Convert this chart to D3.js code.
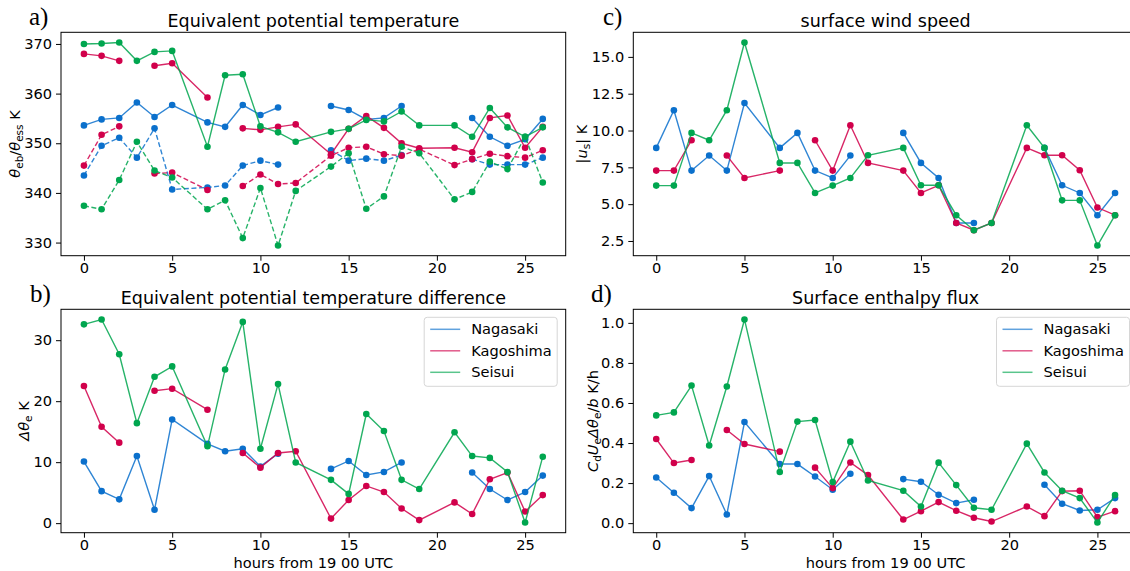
<!DOCTYPE html>
<html>
<head>
<meta charset="utf-8">
<script src="https://cdn.jsdelivr.net/npm/d3@7"></script>
<style>
  body { margin: 0; background: #fff; }
  text { font-family: "DejaVu Sans", sans-serif; fill: #000; }
</style>
</head>
<body>
<script>
// hours with observations (6, 13, 20 not in the record)
var hours = [0,1,2,3,4,5,7,8,9,10,11,12,14,15,16,17,18,19,21,22,23,24,25,26];
var stations = ['Nagasaki', 'Kagoshima', 'Seisui'];
var colors = ['#0b70cc', '#d1004b', '#00a64f'];
var xTicks = [0,5,10,15,20,25];

// a) theta_eb (solid) and theta_ess (dashed)
var ebNagasaki  = [353.6,354.8,355.1,358.2,355.3,357.7,354.2,353.3,357.7,355.7,357.2,null,357.5,356.7,354.8,355.1,357.5,null,null,355.1,351.3,349.5,350.8,354.9];
var ebKagoshima = [368.0,367.6,366.6,null,365.6,366.1,359.2,null,353.0,352.7,353.3,353.8,347.8,352.9,355.5,353.1,350.0,349.0,349.1,348.2,355.1,355.6,349.1,353.3];
var ebSeisui    = [370.0,370.1,370.3,366.6,368.4,368.6,349.3,363.7,363.9,353.4,352.2,350.3,352.3,352.9,354.7,354.4,356.4,353.6,353.6,351.3,357.1,353.2,351.3,353.2];
var essNagasaki  = [343.5,349.5,351.1,347.1,353.0,340.7,341.1,341.5,345.5,346.5,345.7,null,348.6,346.5,346.9,346.5,347.6,null,null,346.8,345.7,345.7,345.7,347.1];
var essKagoshima = [345.5,351.7,353.4,null,343.9,344.1,340.6,null,341.4,343.7,341.8,342.0,347.5,349.1,349.3,347.8,347.5,348.8,345.6,346.8,347.9,347.4,347.1,348.6];
var essSeisui    = [337.4,336.7,342.6,350.3,344.5,343.1,336.7,338.5,330.9,341.0,329.4,340.4,345.3,348.0,336.8,339.3,349.3,348.0,338.7,340.2,346.3,344.8,351.3,342.1];
var aTicks = [330,340,350,360,370];

// b) delta theta_e
var dNagasaki  = [10.1,5.25,3.9,11.0,2.2,17.0,13.0,11.8,12.2,9.3,11.4,null,8.9,10.2,7.9,8.4,9.95,null,null,8.3,5.6,3.8,5.1,7.8];
var dKagoshima = [22.5,15.8,13.2,null,21.7,22.05,18.6,null,11.5,9.1,11.5,11.8,0.75,3.8,6.1,5.1,2.4,0.5,3.4,1.5,7.2,8.3,1.9,4.6];
var dSeisui    = [32.6,33.4,27.7,16.4,24.0,25.7,12.6,25.2,33.0,12.2,22.8,9.95,7.1,4.8,17.9,15.1,7.1,5.6,14.9,11.0,10.7,8.4,0.1,10.9];
var bTicks = [0,10,20,30];

// c) surface wind speed
var uNagasaki  = [8.82,11.38,7.28,8.30,7.28,11.87,8.82,9.84,7.28,6.78,8.30,null,9.84,7.80,6.78,3.72,3.72,null,null,8.82,6.28,5.76,4.25,5.76];
var uKagoshima = [7.28,7.28,9.34,null,8.30,6.78,7.28,null,9.34,7.28,10.36,7.80,7.28,5.76,6.28,3.72,3.23,3.72,8.82,8.32,8.32,7.30,4.77,4.25];
var uSeisui    = [6.26,6.26,9.84,9.34,11.38,15.98,7.80,7.80,5.76,6.26,6.78,8.32,8.82,6.28,6.28,4.25,3.23,3.72,10.36,8.82,5.26,5.26,2.19,4.25];
var cTicks = [2.5,5.0,7.5,10.0,12.5,15.0];

// d) surface enthalpy flux
var fNagasaki  = [0.228,0.152,0.075,0.235,0.043,0.505,0.295,0.295,0.233,0.167,0.247,null,0.22,0.207,0.142,0.10,0.117,null,null,0.192,0.097,0.063,0.067,0.125];
var fKagoshima = [0.42,0.30,0.315,null,0.465,0.395,0.357,null,0.277,0.175,0.303,0.24,0.018,0.06,0.105,0.062,0.027,0.008,0.083,0.035,0.16,0.162,0.03,0.06];
var fSeisui    = [0.538,0.553,0.687,0.388,0.682,1.017,0.255,0.507,0.515,0.205,0.407,0.213,0.162,0.083,0.302,0.19,0.077,0.067,0.397,0.253,0.162,0.125,0.003,0.14];
var dTicks = [0,0.2,0.4,0.6,0.8,1.0];

var W = 1130, H = 571;
var svg = d3.select('body').append('svg')
  .attr('width', W)
  .attr('height', H);

var cols = [61, 633.3];
var rows = [32.3, 309.3];
var pw = 504.7, ph = 223.4;

// matplotlib style 5% margins
function padded(ext) {
  var m = (ext[1] - ext[0]) * 0.05;
  return [ext[0] - m, ext[1] + m];
}

function panel(opt) {
  var g = svg.append('g').attr('transform', 'translate(' + opt.x + ',' + opt.y + ')');
  var all = [];
  opt.series.forEach(function(s) { s.vals.forEach(function(v) { if (v != null) all.push(v); }); });
  var x = d3.scaleLinear().domain(padded(d3.extent(hours))).range([0, pw]);
  var y = d3.scaleLinear().domain(padded(d3.extent(all))).range([ph, 0]);

  var line = d3.line()
    .defined(function(d) { return d[1] != null; })
    .x(function(d) { return x(d[0]); })
    .y(function(d) { return y(d[1]); });

  opt.series.forEach(function(s) {
    var pts = hours.map(function(h, i) { return [h, s.vals[i]]; });
    g.append('path')
      .attr('d', line(pts))
      .attr('fill', 'none')
      .attr('stroke', s.color)
      .attr('stroke-opacity', 0.85)
      .attr('stroke-width', 1.4)
      .attr('stroke-dasharray', s.dash ? '5,2.6' : null);
    g.selectAll(null)
      .data(pts.filter(function(d) { return d[1] != null; }))
      .enter()
      .append('circle')
      .attr('cx', function(d) { return x(d[0]); })
      .attr('cy', function(d) { return y(d[1]); })
      .attr('r', 3.3)
      .attr('fill', s.color);
  });

  // axes
  var xa = g.append('g').attr('transform', 'translate(0,' + ph + ')')
    .call(d3.axisBottom(x).tickValues(xTicks).tickSize(5).tickPadding(2));
  var ya = g.append('g')
    .call(d3.axisLeft(y).tickValues(opt.ticks).tickFormat(opt.fmt).tickSize(5).tickPadding(4));
  [xa, ya].forEach(function(a) {
    a.select('.domain').remove();
    a.selectAll('text').style('font-size', '14.6px').style('font-family', '"DejaVu Sans", sans-serif').attr('fill', '#000');
    a.selectAll('line').attr('stroke', '#000').attr('stroke-width', 1);
  });
  g.append('rect')
    .attr('width', pw).attr('height', ph)
    .attr('fill', 'none').attr('stroke', '#000').attr('stroke-width', 1);

  // title and panel letter
  g.append('text')
    .attr('x', pw / 2).attr('y', -5)
    .attr('text-anchor', 'middle')
    .style('font-size', '17.5px')
    .text(opt.title);
  svg.append('text')
    .attr('x', opt.lx).attr('y', opt.y - 7)
    .style('font-family', '"Liberation Serif", serif')
    .style('font-size', '25px')
    .text(opt.letter);

  // y label built from pieces: [text, italic, sub, back up]
  var yl = svg.append('text')
    .attr('transform', 'translate(' + opt.ylx + ',' + (opt.y + ph / 2) + ') rotate(-90)')
    .attr('text-anchor', 'middle')
    .style('font-size', '14.6px');
  opt.ylabel.forEach(function(p) {
    var t = yl.append('tspan').text(p[0]);
    if (p[1]) t.style('font-style', 'italic');
    if (p[2]) t.style('font-size', '10.5px').attr('dy', 3);
    if (p[3]) t.attr('dy', -3);
  });

  if (opt.xlabel) {
    g.append('text')
      .attr('x', pw / 2).attr('y', ph + 35)
      .attr('text-anchor', 'middle')
      .style('font-size', '14.6px')
      .text('hours from 19 00 UTC');
  }

  if (opt.legend) {
    var lg = g.append('g').attr('transform', 'translate(' + (pw - 141.5) + ',8)');
    lg.append('rect')
      .attr('width', 133).attr('height', 69).attr('rx', 3)
      .attr('fill', '#fff').attr('fill-opacity', 0.8)
      .attr('stroke', '#d6d6d6');
    stations.forEach(function(name, i) {
      var yy = 12 + i * 21.5;
      lg.append('line')
        .attr('x1', 6).attr('x2', 36).attr('y1', yy).attr('y2', yy)
        .attr('stroke', colors[i]).attr('stroke-opacity', 0.65).attr('stroke-width', 1.5);
      lg.append('text')
        .attr('x', 47).attr('y', yy + 5)
        .style('font-size', '14.6px')
        .text(name);
    });
  }
}

panel({
  x: cols[0], y: rows[0], lx: 29, ylx: 20, letter: 'a)',
  title: 'Equivalent potential temperature',
  series: [
    {vals: ebNagasaki, color: colors[0]}, {vals: essNagasaki, color: colors[0], dash: true},
    {vals: ebKagoshima, color: colors[1]}, {vals: essKagoshima, color: colors[1], dash: true},
    {vals: ebSeisui, color: colors[2]}, {vals: essSeisui, color: colors[2], dash: true}
  ],
  ticks: aTicks, fmt: d3.format('d'),
  ylabel: [['θ', true], ['eb', false, true], ['/', false, false, true], ['θ', true], ['ess', false, true], [' K', false, false, true]]
});

panel({
  x: cols[0], y: rows[1], lx: 30, ylx: 29, letter: 'b)',
  title: 'Equivalent potential temperature difference',
  series: [{vals: dNagasaki, color: colors[0]}, {vals: dKagoshima, color: colors[1]}, {vals: dSeisui, color: colors[2]}],
  ticks: bTicks, fmt: d3.format('d'),
  ylabel: [['Δ', true], ['θ', true], ['e', false, true], [' K', false, false, true]],
  xlabel: true, legend: true
});

panel({
  x: cols[1], y: rows[0], lx: 603, ylx: 587, letter: 'c)',
  title: 'surface wind speed',
  series: [{vals: uNagasaki, color: colors[0]}, {vals: uKagoshima, color: colors[1]}, {vals: uSeisui, color: colors[2]}],
  ticks: cTicks, fmt: d3.format('.1f'),
  ylabel: [['|'], ['u', true], ['s', false, true], ['| K', false, false, true]]
});

panel({
  x: cols[1], y: rows[1], lx: 591, ylx: 598, letter: 'd)',
  title: 'Surface enthalpy flux',
  series: [{vals: fNagasaki, color: colors[0]}, {vals: fKagoshima, color: colors[1]}, {vals: fSeisui, color: colors[2]}],
  ticks: dTicks, fmt: d3.format('.1f'),
  ylabel: [['C', true], ['d', false, true], ['U', true, false, true], ['e', false, true], ['Δ', true, false, true], ['θ', true], ['e', false, true], ['/', false, false, true], ['b', true], [' K/h']],
  xlabel: true, legend: true
});
</script>
</body>
</html>
